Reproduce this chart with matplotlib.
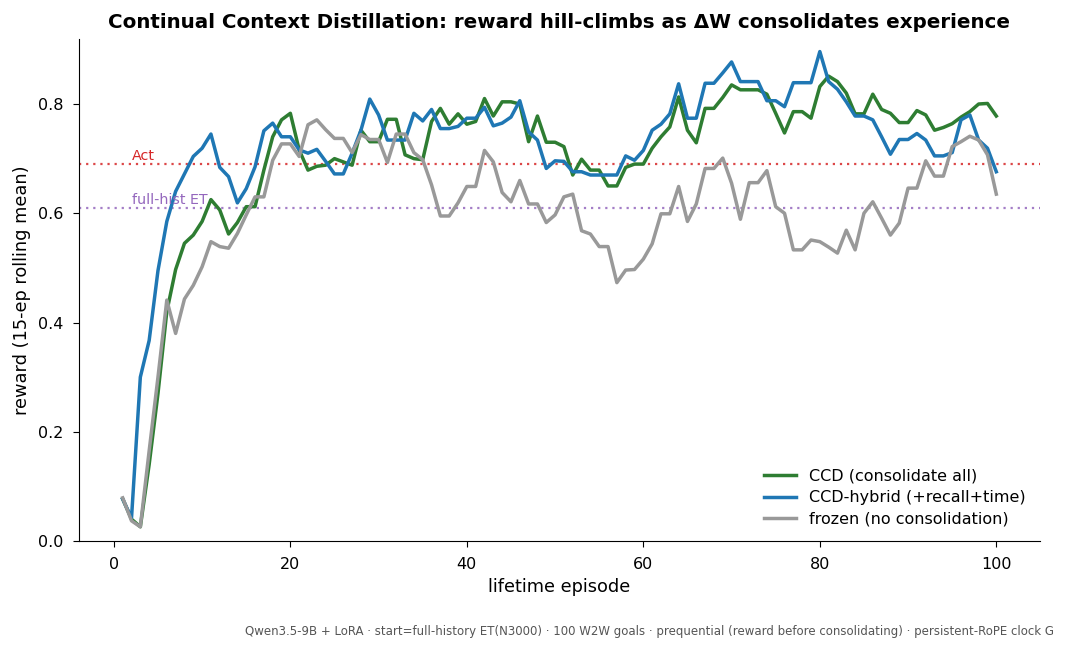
import matplotlib
matplotlib.use("Agg")
import matplotlib.pyplot as plt
import numpy as np

episodes = list(range(1, 101))

ccd = [0.077, 0.040, 0.026, 0.14, 0.27, 0.42, 0.497, 0.545, 0.560, 0.585,
       0.625, 0.606, 0.562, 0.583, 0.612, 0.612, 0.679, 0.740, 0.771, 0.783,
       0.716, 0.679, 0.686, 0.688, 0.700, 0.694, 0.688, 0.752, 0.731, 0.731,
       0.772, 0.772, 0.707, 0.700, 0.698, 0.768, 0.792, 0.763, 0.782, 0.763,
       0.768, 0.810, 0.778, 0.804, 0.804, 0.800, 0.731, 0.778, 0.730, 0.730,
       0.722, 0.670, 0.699, 0.679, 0.679, 0.650, 0.650, 0.684, 0.690, 0.690,
       0.719, 0.740, 0.758, 0.813, 0.752, 0.729, 0.792, 0.792, 0.812, 0.835,
       0.826, 0.826, 0.826, 0.818, 0.783, 0.747, 0.786, 0.786, 0.774, 0.832,
       0.851, 0.841, 0.820, 0.782, 0.782, 0.818, 0.790, 0.783, 0.766, 0.766,
       0.788, 0.780, 0.752, 0.757, 0.764, 0.776, 0.786, 0.800, 0.801, 0.778]

hybrid = [0.077, 0.042, 0.300, 0.367, 0.495, 0.585, 0.640, 0.672, 0.704, 0.719,
          0.745, 0.684, 0.667, 0.619, 0.645, 0.685, 0.751, 0.765, 0.740, 0.740,
          0.716, 0.710, 0.717, 0.695, 0.672, 0.672, 0.710, 0.752, 0.809, 0.780,
          0.734, 0.734, 0.734, 0.783, 0.769, 0.790, 0.755, 0.755, 0.759, 0.774,
          0.774, 0.794, 0.760, 0.765, 0.776, 0.806, 0.749, 0.734, 0.682, 0.696,
          0.695, 0.676, 0.676, 0.670, 0.670, 0.670, 0.670, 0.705, 0.697, 0.715,
          0.752, 0.763, 0.782, 0.837, 0.774, 0.774, 0.838, 0.838, 0.857, 0.877,
          0.841, 0.841, 0.841, 0.806, 0.806, 0.795, 0.839, 0.839, 0.839, 0.896,
          0.841, 0.827, 0.804, 0.778, 0.778, 0.771, 0.740, 0.708, 0.735, 0.735,
          0.746, 0.734, 0.705, 0.705, 0.711, 0.771, 0.780, 0.734, 0.719, 0.676]

frozen = [0.079, 0.037, 0.026, 0.165, 0.300, 0.441, 0.380, 0.443, 0.468, 0.502,
          0.548, 0.539, 0.536, 0.563, 0.597, 0.630, 0.630, 0.697, 0.727, 0.727,
          0.704, 0.762, 0.771, 0.753, 0.737, 0.737, 0.711, 0.744, 0.735, 0.735,
          0.693, 0.745, 0.745, 0.711, 0.698, 0.652, 0.595, 0.595, 0.619, 0.649,
          0.649, 0.715, 0.694, 0.638, 0.621, 0.660, 0.617, 0.617, 0.583, 0.597,
          0.630, 0.635, 0.568, 0.562, 0.539, 0.539, 0.473, 0.496, 0.497, 0.516,
          0.544, 0.599, 0.599, 0.649, 0.585, 0.617, 0.682, 0.682, 0.701, 0.655,
          0.589, 0.656, 0.656, 0.678, 0.612, 0.600, 0.533, 0.533, 0.551, 0.548,
          0.538, 0.527, 0.569, 0.533, 0.600, 0.621, 0.591, 0.560, 0.582, 0.646,
          0.646, 0.696, 0.668, 0.668, 0.722, 0.731, 0.741, 0.734, 0.707, 0.635]

act_level = 0.690
fullhist_level = 0.610

series_labels = ["CCD (consolidate all)", "CCD-hybrid (+recall+time)", "frozen (no consolidation)"]

fig = plt.figure(figsize=(10.66, 6.52), dpi=100)
ax = fig.add_axes([79/1066, (652-541)/652, 961/1066, 502/652])

ax.axhline(act_level, color="#d62728", ls=(0, (1, 2.2)), lw=1.6, alpha=0.85)
ax.axhline(fullhist_level, color="#9467bd", ls=(0, (1, 2.2)), lw=1.6, alpha=0.85)
ax.text(2, act_level + 0.0073, "Act", color="#d62728", fontsize=10.3, va="baseline", ha="left")
ax.text(2, fullhist_level + 0.0073, "full-hist ET", color="#9467bd", fontsize=10.3, va="baseline", ha="left")

ax.plot(episodes, ccd, color="#2e7d32", lw=2.5, label=series_labels[0])
ax.plot(episodes, hybrid, color="#1f77b4", lw=2.5, label=series_labels[1])
ax.plot(episodes, frozen, color="#999999", lw=2.5, label=series_labels[2])

ax.set_xlim(-3.95, 104.95)
ax.set_ylim(0, 0.919)
ax.set_xticks([0, 20, 40, 60, 80, 100])
ax.set_yticks([0.0, 0.2, 0.4, 0.6, 0.8])
ax.tick_params(labelsize=11.5, length=4, pad=7.5)
ax.spines["top"].set_visible(False)
ax.spines["right"].set_visible(False)
ax.set_xlabel("lifetime episode", fontsize=12.8, labelpad=4)
ax.set_ylabel("reward (15-ep rolling mean)", fontsize=12.8, labelpad=5)
ax.set_title("Continual Context Distillation: reward hill-climbs as ΔW consolidates experience",
             fontsize=14.3, fontweight="bold", pad=8)
ax.legend(loc="lower right", frameon=False, fontsize=11.5, bbox_to_anchor=(1.0, 0.0),
          labelspacing=0.4)

fig.text(245/1066, 1 - 632/652, "Qwen3.5-9B + LoRA · start=full-history ET(N3000) · 100 W2W goals · prequential (reward before consolidating) · persistent-RoPE clock G",
         fontsize=8.5, color="#555555", family=["Liberation Sans Narrow", "DejaVu Sans"], ha="left", va="center")

fig.savefig("out.png", dpi=100)
